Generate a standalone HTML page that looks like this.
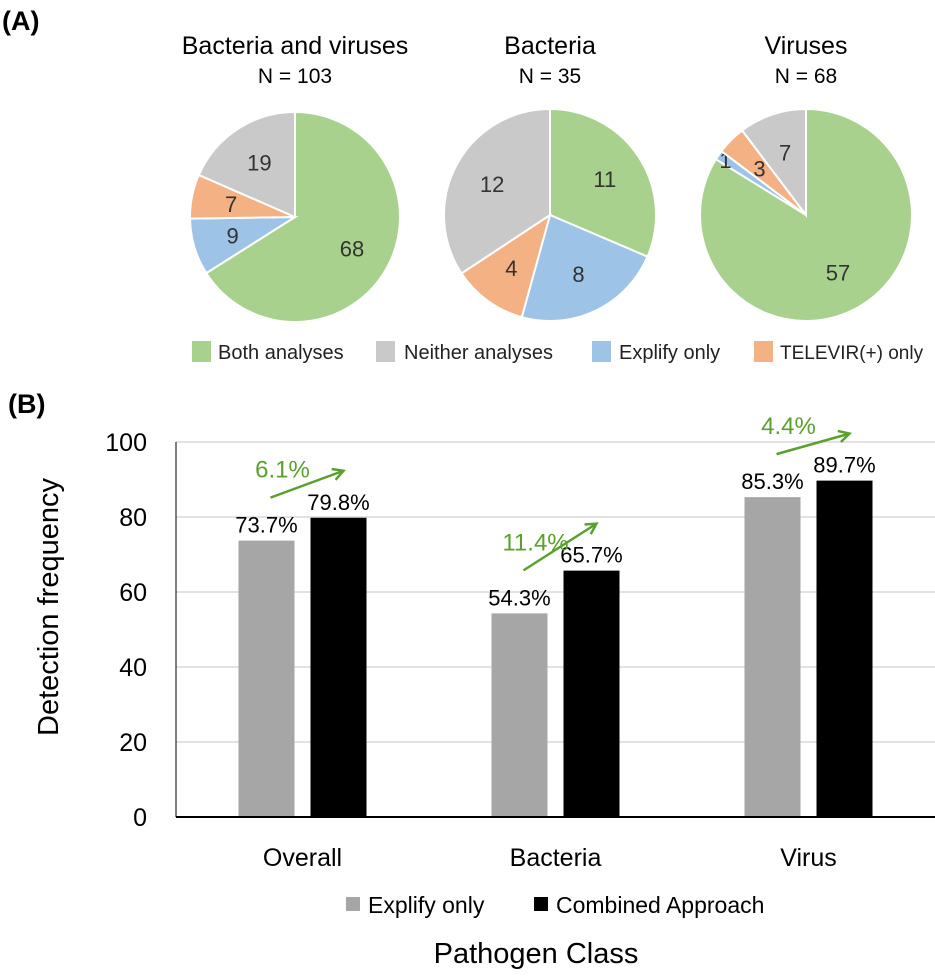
<!DOCTYPE html>
<html><head><meta charset="utf-8"><style>
body{margin:0;background:#fff;}
svg text{font-family:"Liberation Sans",sans-serif;}
</style></head><body>
<svg id="fig" width="935" height="974" viewBox="0 0 935 974" xmlns="http://www.w3.org/2000/svg">
<text x="2" y="30" font-size="27" font-weight="bold">(A)</text>
<text x="8" y="413" font-size="27" font-weight="bold">(B)</text>
<g id="pies"></g>
<g id="pieLegend">
<rect x="192" y="341" width="19" height="21" fill="#a9d18e"/>
<text x="218" y="359" font-size="20" fill="#222">Both analyses</text>
<rect x="376" y="341" width="19" height="21" fill="#c9c9c9"/>
<text x="404" y="359" font-size="20" fill="#222">Neither analyses</text>
<rect x="592" y="341" width="19" height="21" fill="#9dc3e6"/>
<text x="619" y="359" font-size="20" fill="#222">Explify only</text>
<rect x="754" y="341" width="19" height="21" fill="#f4b183"/>
<text x="780" y="359" font-size="19" fill="#222">TELEVIR(+) only</text>
</g>
<g id="bars"></g>
<text transform="translate(58,607) rotate(-90)" text-anchor="middle" font-size="29" fill="#000">Detection frequency</text>
<text x="536" y="963" text-anchor="middle" font-size="29" fill="#000">Pathogen Class</text>
<g>
<rect x="346" y="897" width="14" height="14" fill="#a6a6a6"/>
<text x="368" y="913" font-size="23" fill="#000">Explify only</text>
<rect x="534" y="897" width="14" height="14" fill="#000"/>
<text x="556" y="913" font-size="23" fill="#000">Combined Approach</text>
</g>
</svg>
<script>
const pieTitles = ["Bacteria and viruses", "Bacteria", "Viruses"];
const pieN = ["N = 103", "N = 35", "N = 68"];
const sliceNames = ["both", "explify", "televir", "neither"];
const pieBoth = [68, 11, 57];
const pieExplify = [9, 8, 1];
const pieTelevir = [7, 4, 3];
const pieNeither = [19, 12, 7];

const categories = ["Overall", "Bacteria", "Virus"];
const explifyValues = [73.7, 54.3, 85.3];
const combinedValues = [79.8, 65.7, 89.7];
const increaseLabels = ["6.1%", "11.4%", "4.4%"];
const yTicks = [0, 20, 40, 60, 80, 100];

const NS = "http://www.w3.org/2000/svg";
function mk(tag, attrs, parent){const e=document.createElementNS(NS,tag);for(const k in attrs)e.setAttribute(k,attrs[k]);parent.appendChild(e);return e;}

// Pies
const pieG = document.getElementById('pies');
const sliceColors = ["#a9d18e", "#9dc3e6", "#f4b183", "#c9c9c9"];
const centers = [[295,217,105],[550,215,106],[806,215,106]];
pieTitles.forEach((t,i)=>{
  const [cx,cy,r] = centers[i];
  const title = mk('text',{x:cx,y:54,'text-anchor':'middle','font-size':25,fill:'#000'},pieG);
  
  
  title.textContent = t;
  const n = mk('text',{x:cx,y:83,'text-anchor':'middle','font-size':21,fill:'#000'},pieG);
  
  
  n.textContent = pieN[i];
  const vals = [pieBoth[i], pieExplify[i], pieTelevir[i], pieNeither[i]];
  const total = vals.reduce((a,b)=>a+b,0);
  let a0 = 0;
  vals.forEach((v,j)=>{
    const a1 = a0 + v/total*2*Math.PI;
    const x0 = cx + r*Math.sin(a0), y0 = cy - r*Math.cos(a0);
    const x1 = cx + r*Math.sin(a1), y1 = cy - r*Math.cos(a1);
    const large = (a1-a0) > Math.PI ? 1 : 0;
    const p = mk('path',{d:`M${cx},${cy} L${x0},${y0} A${r},${r} 0 ${large} 1 ${x1},${y1} Z`,fill:sliceColors[j],stroke:'#fff','stroke-width':2},pieG);
    
    
    const am = (a0+a1)/2;
    let rr = 0.62*r;
    if (v/total < 0.03) rr = 0.92*r;
    const lx = cx + rr*Math.sin(am), ly = cy - rr*Math.cos(am);
    const lb = mk('text',{x:lx,y:ly+8,'text-anchor':'middle','font-size':22,fill:'#333'},pieG);
    
    
    lb.textContent = v;
    a0 = a1;
  });
});

// Bars
const barG = document.getElementById('bars');
const plotL = 176, plotR = 935, y0px = 817, y100px = 442;
const yScale = v => y0px - (v/100)*(y0px-y100px);
const catW = (plotR-plotL)/categories.length;
const xCat = i => plotL + catW*(i+0.5);
const barW = 56, gap = 16;
yTicks.forEach(t=>{
  if (t>0){
    const gl = mk('line',{x1:plotL,x2:plotR,y1:yScale(t),y2:yScale(t),stroke:'#d9d9d9','stroke-width':1.5},barG);
    
    
  }
  const tl = mk('text',{x:147,y:yScale(t)+9,'text-anchor':'end','font-size':25,fill:'#000'},barG);
  
  
  tl.textContent = t;
});
const yAx = mk('line',{x1:plotL,x2:plotL,y1:y100px,y2:y0px,stroke:'#000','stroke-width':1},barG);


categories.forEach((c,i)=>{
  const cx = xCat(i);
  const gx = cx - gap/2 - barW, bx = cx + gap/2;
  const gv = explifyValues[i], bv = combinedValues[i];
  const gb = mk('rect',{x:gx,y:yScale(gv),width:barW,height:y0px-yScale(gv),fill:'#a6a6a6'},barG);
  
  
  const bb = mk('rect',{x:bx,y:yScale(bv),width:barW,height:y0px-yScale(bv),fill:'#000'},barG);
  
  
  const gl = mk('text',{x:gx+barW/2,y:yScale(gv)-8,'text-anchor':'middle','font-size':22,fill:'#000'},barG);
  
  
  gl.textContent = gv.toFixed(1)+'%';
  const bl = mk('text',{x:bx+barW/2,y:yScale(bv)-8,'text-anchor':'middle','font-size':22,fill:'#000'},barG);
  
  
  bl.textContent = bv.toFixed(1)+'%';
  // increase arrow
  const sx = gx + barW/2 + 4, sy = yScale(gv) - 43;
  const ex = bx + barW/2 + 5, ey = yScale(bv) - 47;
  const ar = mk('line',{x1:sx,y1:sy,x2:ex,y2:ey,stroke:'#5aa02c','stroke-width':2.5},barG);
  
  
  const ang = Math.atan2(ey-sy, ex-sx);
  const h = 12;
  const hd = mk('polyline',{points:`${ex-h*Math.cos(ang-0.5)},${ey-h*Math.sin(ang-0.5)} ${ex},${ey} ${ex-h*Math.cos(ang+0.5)},${ey-h*Math.sin(ang+0.5)}`,fill:'none',stroke:'#5aa02c','stroke-width':2.5},barG);
  
  
  const il = mk('text',{x:sx+12,y:sy-20,'text-anchor':'middle','font-size':24,fill:'#5aa02c'},barG);
  
  
  il.textContent = increaseLabels[i];
  const xl = mk('text',{x:cx,y:866,'text-anchor':'middle','font-size':25,fill:'#000'},barG);
  
  
  xl.textContent = c;
});
const xAx = mk('line',{x1:plotL,x2:plotR,y1:y0px,y2:y0px,stroke:'#000','stroke-width':2},barG);


</script>
</body></html>
